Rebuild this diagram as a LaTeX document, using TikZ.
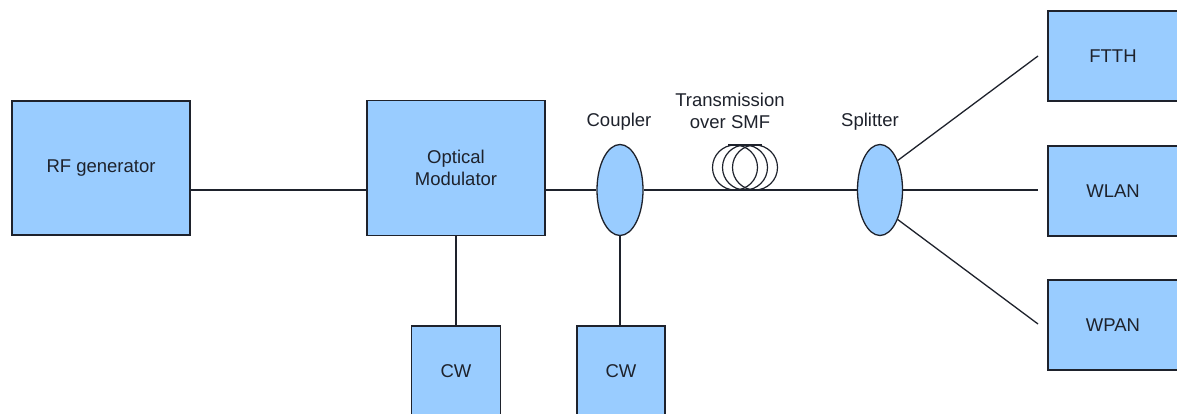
\documentclass[tikz,border=0pt]{standalone}
\usepackage{fontspec}
\setmainfont{Liberation Sans}
\usetikzlibrary{shapes.geometric}
\definecolor{boxblue}{RGB}{153,204,255}
\definecolor{ink}{RGB}{30,34,44}
\begin{document}
\begin{tikzpicture}[x=1pt,y=-1pt,
  every node/.style={font=\fontsize{18.5}{22}\selectfont, text=ink},
  blk/.style={draw=ink, fill=boxblue, line width=1.3pt, inner sep=0pt, align=center},
  oval/.style={ellipse, draw=ink, fill=boxblue, line width=1.3pt, inner sep=0pt, minimum width=46pt, minimum height=91pt},
  wire/.style={draw=ink, line width=1.3pt},
  lbl/.style={align=center, inner sep=0pt}]
\useasboundingbox (0,0) rectangle (1177,414);
\clip (0,0) rectangle (1177,414);
\fill[white] (0,0) rectangle (1177,414);

\node[blk, minimum width=178pt, minimum height=134pt] (rf) at (101,168) {RF generator};
\node[blk, minimum width=178pt, minimum height=135pt] (mod) at (456,168) {Optical\\Modulator};
\node[blk, minimum width=89pt, minimum height=96pt] (cw1) at (456,374) {\raisebox{6pt}{CW}};
\node[blk, minimum width=88pt, minimum height=96pt] (cw2) at (621,374) {\raisebox{6pt}{CW}};
\node[oval] (coup) at (620,190) {};
\node[oval, minimum width=45pt] (split) at (880,190) {};
\node[blk, minimum width=132pt, minimum height=90pt] (ftth) at (1114,56) {\hspace*{-2pt}FTTH};
\node[blk, minimum width=132pt, minimum height=90pt] (wlan) at (1114,191) {\hspace*{-2pt}WLAN};
\node[blk, minimum width=132pt, minimum height=90pt] (wpan) at (1114,325) {\hspace*{-2pt}WPAN};

\node[lbl] (lcoup) at (619,122) {Coupler};
\node[lbl] (ltx) at (730,111) {Transmission\\over SMF};
\node[lbl] (lsplit) at (870,122) {Splitter};

\coordinate (e1) at (1038,56);
\coordinate (e2) at (1038,190);
\coordinate (e3) at (1038,324);

% connectors
\draw[wire] ([yshift=-22pt]rf.east) -- ([yshift=-22pt]mod.west);
\draw[wire] ([yshift=-22pt]mod.east) -- (coup.west);
\draw[wire] (coup.east) -- (split.west);
\draw[wire] (mod.south) -- (cw1.north);
\draw[wire] (coup.south) -- (coup.south |- cw2.north);
\draw[wire] (split.59) -- (e1);
\draw[wire] (split.east) -- (e2);
\draw[wire] (split.-59) -- (e3);

% fibre coil
\begin{scope}[line width=1.2pt, draw=ink]
\draw[ink] (735,167.5) circle (22.5);
\draw[ink] (745,167.5) circle (22.5);
\draw[ink] (755,167.5) circle (22.5);
\draw[ink] (728,145) -- (762,145);
\end{scope}
\end{tikzpicture}
\end{document}
